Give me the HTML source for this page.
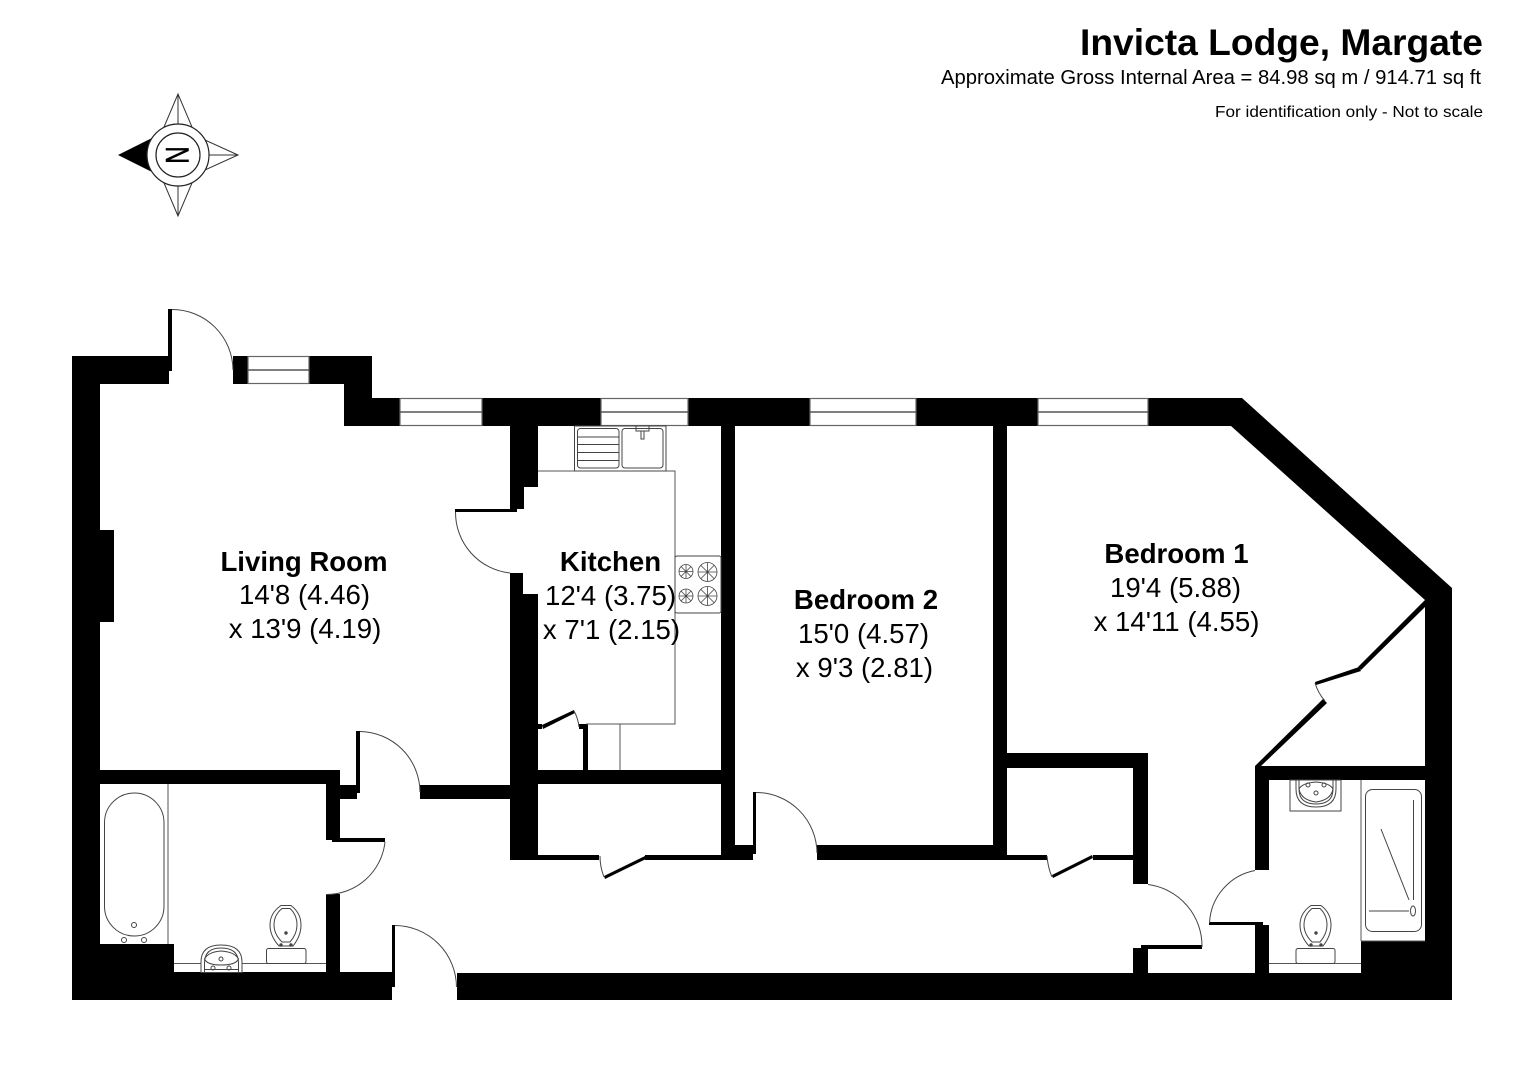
<!DOCTYPE html>
<html><head><meta charset="utf-8"><title>Invicta Lodge, Margate</title>
<style>
html,body{margin:0;padding:0;background:#fff}
svg{display:block}
text{font-family:"Liberation Sans",Arial,sans-serif;fill:#000}
.t{font-size:27.6px;text-anchor:middle}
.b{font-weight:bold}
.l{fill:none;stroke:#444;stroke-width:1}
.w{fill:#fff;stroke:#666;stroke-width:1.2}
</style></head><body>
<svg width="1526" height="1080" viewBox="0 0 1526 1080" xmlns="http://www.w3.org/2000/svg">
<rect width="1526" height="1080" fill="#fff"/>

<!-- header -->
<text x="1483" y="55" text-anchor="end" class="b" font-size="37" textLength="403" lengthAdjust="spacingAndGlyphs">Invicta Lodge, Margate</text>
<text x="1481" y="84" text-anchor="end" font-size="20" textLength="540" lengthAdjust="spacingAndGlyphs">Approximate Gross Internal Area = 84.98 sq m / 914.71 sq ft</text>
<text x="1483" y="117" text-anchor="end" font-size="16" textLength="268" lengthAdjust="spacingAndGlyphs">For identification only - Not to scale</text>

<!-- compass -->
<g>
<polygon points="178,94 164,127 192,127" fill="#fff" stroke="#333"/>
<polygon points="178,216 164,183 192,183" fill="#fff" stroke="#333"/>
<polygon points="238,155 205,140 205,170" fill="#fff" stroke="#333"/>
<polygon points="118,155 152,138 152,172" fill="#000"/>
<line x1="178" y1="94" x2="178" y2="216" stroke="#333"/>
<line x1="178" y1="155" x2="238" y2="155" stroke="#333"/>
<circle cx="178" cy="155" r="31" fill="#fff" stroke="#222" stroke-width="1.2"/>
<circle cx="178" cy="155" r="22" fill="#fff" stroke="#222" stroke-width="1.2"/>
<text x="0" y="0" transform="translate(166,155) rotate(90) scale(1,1.35)" font-size="24" text-anchor="middle" stroke="#000" stroke-width=".4">N</text>
</g>

<!-- walls -->
<g fill="#000">
<polygon points="72,356 169,356 169,384 100,384 100,1000 72,1000"/>
<rect x="168" y="309" width="4" height="62"/>
<rect x="233" y="356" width="15" height="28"/>
<polygon points="309,356 372,356 372,398 400,398 400,426 344,426 344,384 309,384"/>
<rect x="482" y="398" width="119" height="28"/>
<rect x="688" y="398" width="122" height="28"/>
<rect x="916" y="398" width="122" height="28"/>
<polygon points="1148,398 1242,398 1452,588 1452,1000 1425,1000 1425,600 1231,426 1148,426"/>
<rect x="100" y="530" width="14" height="92"/>

<!-- living/kitchen wall -->
<polygon points="510,426 538,426 538,487 524,487 524,509 517,509 517,512 455,512 455,509 510,509"/>
<polygon points="510,573 523,573 523,594 538,594 538,860 510,860"/>
<rect x="420" y="785" width="90" height="14"/>
<rect x="538" y="770" width="197" height="14"/>
<rect x="721" y="426" width="14" height="434"/>
<rect x="538" y="855" width="61" height="5"/>
<rect x="645" y="855" width="76" height="5"/>
<polygon points="604,876 645,856 646,859 605,879"/>
<rect x="735" y="845" width="18" height="15"/>
<rect x="753" y="792" width="3" height="62"/>
<rect x="817" y="845" width="190" height="15"/>
<rect x="993" y="426" width="14" height="420"/>

<!-- kitchen cupboard -->
<rect x="538" y="724" width="4" height="5"/>
<polygon points="542,725 574,710 575,713 543,729"/>
<rect x="579" y="724" width="9" height="5"/>
<rect x="583" y="729" width="5" height="41"/>

<!-- bath 1 walls -->
<rect x="100" y="770" width="240" height="14"/>
<polygon points="326,784 340,784 340,838 385,838 385,842 332,842 332,840 326,840"/>
<rect x="340" y="785" width="17" height="14"/>
<rect x="356" y="731" width="4" height="62"/>
<rect x="326" y="894" width="14" height="80"/>
<rect x="100" y="944" width="74" height="30"/>
<rect x="72" y="972" width="320" height="28"/>
<rect x="392" y="925" width="3" height="62"/>
<rect x="457" y="973" width="995" height="27"/>

<!-- bedroom 1 cupboard -->
<rect x="1007" y="753" width="141" height="15"/>
<rect x="1133" y="753" width="15" height="131"/>
<rect x="1007" y="855" width="40" height="5"/>
<rect x="1093" y="855" width="41" height="5"/>
<polygon points="1052,875 1092,855 1093,858 1053,878"/>
<rect x="1141" y="945" width="61" height="4"/>
<rect x="1133" y="948" width="15" height="26"/>

<!-- bathroom 2 -->
<rect x="1255" y="766" width="170" height="14"/>
<rect x="1255" y="766" width="14" height="104"/>
<rect x="1209" y="922" width="54" height="3"/>
<rect x="1255" y="925" width="14" height="49"/>
<rect x="1361" y="941" width="64" height="33"/>

<!-- diagonal closet wall -->
<polygon points="1425,600 1425,607 1361,670 1358,667"/>
<polygon points="1359,667 1315,682 1316,685 1361,671"/>
<polygon points="1323,699 1327,703 1261,766 1255,766"/>
</g>

<!-- windows -->
<g>
<rect class="w" x="248" y="356.500" width="61" height="27"/><line x1="248" y1="370" x2="309" y2="370" stroke="#555" stroke-width="1.4"/>
<rect class="w" x="400" y="398.500" width="82" height="27"/><line x1="400" y1="412" x2="482" y2="412" stroke="#555" stroke-width="1.4"/>
<rect class="w" x="601" y="398.500" width="87" height="27"/><line x1="601" y1="412" x2="688" y2="412" stroke="#555" stroke-width="1.4"/>
<rect class="w" x="810" y="398.500" width="106" height="27"/><line x1="810" y1="412" x2="916" y2="412" stroke="#555" stroke-width="1.4"/>
<rect class="w" x="1038" y="398.500" width="110" height="27"/><line x1="1038" y1="412" x2="1148" y2="412" stroke="#555" stroke-width="1.4"/>
</g>

<!-- door arcs -->
<g class="l">
<path d="M172,309.500 A61,61 0 0 1 233,370" />
<path d="M455.500,512 A61,61 0 0 0 510,573"/>
<path d="M360,731.500 A61,61 0 0 1 420,792"/>
<path d="M385,842 A59,59 0 0 1 326,894.500"/>
<path d="M395,925.500 A62,62 0 0 1 456.500,987"/>
<path d="M756,792.500 A61,61 0 0 1 817,853"/>
<path d="M600,856 Q600,867 604,877"/>
<path d="M574,711 Q578,718 579,727"/>
<path d="M1047,856 Q1048,868 1052,877"/>
<path d="M1148,884.500 A62,62 0 0 1 1202,947"/>
<path d="M1255,870.500 A56,56 0 0 0 1209.500,923"/>
<path d="M1315,683 Q1318,693 1325,701"/>
</g>

<!-- kitchen fittings -->
<g class="l">
<path d="M538,471 H675 V724 H586" stroke="#555"/>
<line x1="620" y1="724" x2="620" y2="770" stroke="#555"/>
<rect x="574.500" y="426" width="91.500" height="45"/>
<rect x="577.500" y="428.500" width="41.500" height="39.500" rx="3"/>
<rect x="622" y="428.500" width="41" height="39.500" rx="3"/>
<path d="M577.500,437 H619 M577.500,444.500 H619 M577.500,452.500 H619 M577.500,460.500 H619"/>
<rect x="636" y="426" width="13" height="5"/>
<rect x="641" y="431" width="3" height="8"/>
<rect x="675" y="556" width="46" height="57" rx="2"/>
<g stroke-width=".8">
<circle cx="686" cy="571.500" r="7"/><circle cx="707.500" cy="572" r="9.500"/>
<circle cx="686" cy="596" r="7"/><circle cx="707.500" cy="596" r="9.500"/>
<path d="M679,571.500H693M686,564.500V578.500M681,566.500L691,576.500M691,566.500L681,576.500"/>
<path d="M698,572H717M707.500,562.500V581.500M701,565.500L714,578.500M714,565.500L701,578.500"/>
<path d="M679,596H693M686,589V603M681,591L691,601M691,591L681,601"/>
<path d="M698,596H717M707.500,586.500V605.500M701,589.500L714,602.500M714,589.500L701,602.500"/>
</g>
</g>

<!-- bathroom 1 fittings -->
<g class="l">
<line x1="168" y1="784" x2="168" y2="944" stroke="#555"/>
<rect x="104.500" y="793" width="59.500" height="143" rx="29.700" ry="29.700"/>
<circle cx="134" cy="925" r="2.500"/><circle cx="124" cy="940" r="2.500"/><circle cx="144" cy="940" r="2.500"/>
<path d="M174,963.500 H201 M242,963.500 H326" stroke="#555"/>
<path d="M201,972.500 V962 Q201,945 221,945 Q242,945 242,962 V972.500 Z" fill="#fff"/>
<path d="M204.500,972 V963 Q204.500,948 221,948 Q238.500,948 238.500,963 V972"/>
<path d="M204.500,959 Q208,952 221,951 Q235,952 238.500,959 Q236,965 221,965 Q207,965 204.500,959Z"/>
<path d="M204.500,969.500 H238.500" />
<circle cx="221" cy="959" r="2"/><circle cx="213" cy="968" r="2"/><circle cx="229" cy="968" r="2"/>
<rect x="266.500" y="948.500" width="39.500" height="15" rx="2"/>
<path d="M281,905.500 H291 Q301,913 301,925 Q301,936 293,946 H279 Q270,936 270,925 Q270,913 281,905.500 Z"/>
<path d="M282,908.500 H290 Q297,915 297,925 Q297,934 290,942 H282 Q274,934 274,925 Q274,915 282,908.500 Z"/>
<circle cx="286" cy="933" r="1.200" fill="#444"/><circle cx="281" cy="945" r="1.200" fill="#444"/><circle cx="291" cy="945" r="1.200" fill="#444"/>
</g>

<!-- bathroom 2 fittings -->
<g class="l">
<line x1="1361" y1="780" x2="1361" y2="941" stroke="#555"/>
<line x1="1361" y1="941" x2="1425" y2="941" stroke="#555"/>
<rect x="1365.500" y="789.500" width="56" height="142" rx="7"/>
<path d="M1413.500,800 V900 M1381,829 L1409,900 M1369,911 H1409"/>
<ellipse cx="1413" cy="911" rx="2.500" ry="5"/>
<rect x="1290" y="780" width="51" height="31"/>
<path d="M1296,780 V789 Q1296,807 1316,807 Q1336,807 1336,789 V780"/>
<path d="M1299,780 V789 Q1299,804 1316,804 Q1333,804 1333,789 V780"/>
<path d="M1299,789 Q1302,783 1316,782 Q1330,783 1333,789 Q1331,800 1316,802 Q1301,800 1299,789Z"/>
<circle cx="1308" cy="785" r="2"/><circle cx="1324" cy="785" r="2"/><circle cx="1316" cy="793" r="2"/>
<path d="M1269,963.500 H1361" stroke="#555"/>
<rect x="1296" y="948.500" width="39" height="15" rx="2"/>
<path d="M1311,905.500 H1321 Q1331,913 1331,925 Q1331,936 1323,946 H1309 Q1300,936 1300,925 Q1300,913 1311,905.500 Z"/>
<path d="M1312,908.500 H1320 Q1327,915 1327,925 Q1327,934 1320,942 H1312 Q1304,934 1304,925 Q1304,915 1312,908.500 Z"/>
<circle cx="1316" cy="933" r="1.200" fill="#444"/><circle cx="1311" cy="945" r="1.200" fill="#444"/><circle cx="1321" cy="945" r="1.200" fill="#444"/>
</g>

<!-- room labels -->
<text class="t b" x="304" y="571">Living Room</text>
<text class="t" x="304.500" y="604">14'8 (4.46)</text>
<text class="t" x="305" y="638">x 13'9 (4.19)</text>

<text class="t b" x="610.500" y="571">Kitchen</text>
<text class="t" x="610.500" y="605">12'4 (3.75)</text>
<text class="t" x="611.500" y="639">x 7'1 (2.15)</text>

<text class="t b" x="866" y="609">Bedroom 2</text>
<text class="t" x="863.500" y="643">15'0 (4.57)</text>
<text class="t" x="864.500" y="677">x 9'3 (2.81)</text>

<text class="t b" x="1176.500" y="563">Bedroom 1</text>
<text class="t" x="1175.500" y="597">19'4 (5.88)</text>
<text class="t" x="1176.500" y="631">x 14'11 (4.55)</text>
</svg>
</body></html>
